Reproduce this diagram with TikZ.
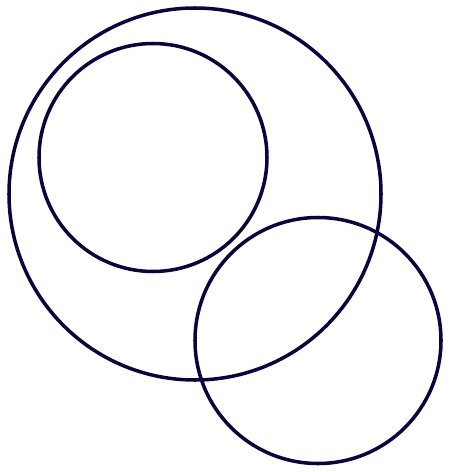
\documentclass[tikz,border=0pt]{standalone}
\usepackage{tikz}

\definecolor{ink}{RGB}{12,4,60}

\begin{document}
\begin{tikzpicture}[line width=2pt]
\tikzstyle{ring}=[draw=ink,circle,inner sep=0pt]

\useasboundingbox (0,0) rectangle (9,-9.44);

\node[ring,minimum size=7.44cm] (outer) at (3.9,-3.88)  {};

\node[ring,minimum size=4.56cm] (inner) at (3.06,-3.15)  {};

\node[ring,minimum size=4.92cm] (side) at (6.36,-6.81)  {};

\end{tikzpicture}
\end{document}
